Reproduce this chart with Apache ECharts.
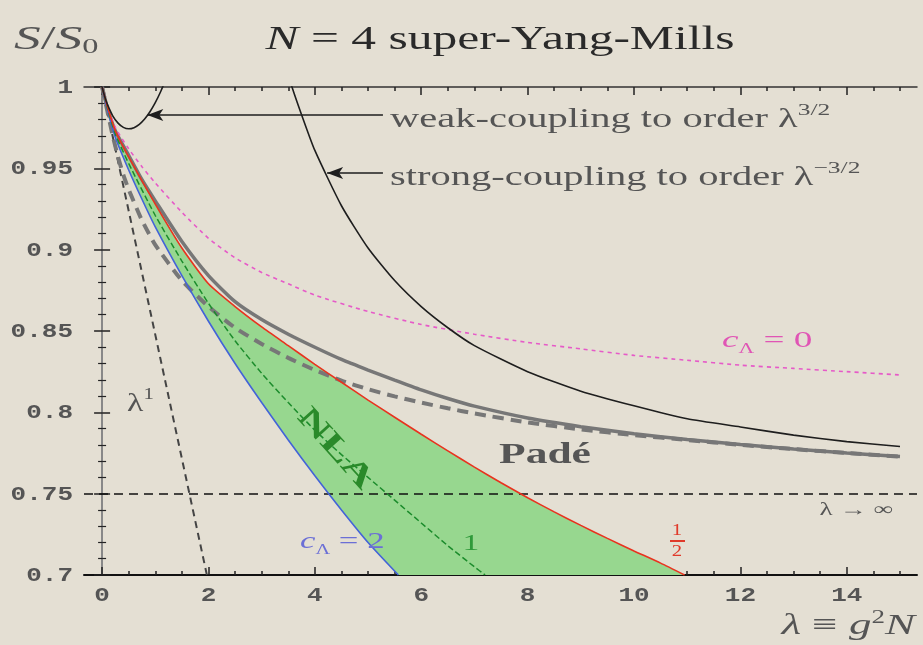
<!DOCTYPE html>
<html>
<head>
<meta charset="utf-8">
<script src="https://cdn.jsdelivr.net/npm/echarts@6/dist/echarts.min.js"></script>
<style>
  html, body { margin: 0; padding: 0; background: #e4dfd3; }
  #chart { width: 923px; height: 645px; }
</style>
</head>
<body>
<div id="chart"></div>
<script>
// ---- axis ticks ----
const xMajorTicks = [0, 2, 4, 6, 8, 10, 12, 14];
const xTickLabels = ['0', '2', '4', '6', '8', '10', '12', '14'];
const xMinorTicks = [0.5, 1, 1.5, 2.5, 3, 3.5, 4.5, 5, 5.5, 6.5, 7, 7.5, 8.5, 9, 9.5,
                     10.5, 11, 11.5, 12.5, 13, 13.5, 14.5, 15];
const yTickValues = [0.7, 0.75, 0.8, 0.85, 0.9, 0.95, 1];
const yTickLabels = ['0.7', '0.75', '0.8', '0.85', '0.9', '0.95', '1'];

// ---- curves: [lambda, S/S0] ----
const weakCoupling = [[0, 1], [0.05, 0.994], [0.1, 0.9893], [0.2, 0.9823], [0.3, 0.9778],
  [0.4, 0.9752], [0.5, 0.9743], [0.6, 0.975], [0.7, 0.977], [0.8, 0.9803], [0.9, 0.9848],
  [1.0, 0.9904], [1.1, 0.9971], [1.2, 1.0048]];

const strongCoupling = [[3.5, 1.008], [3.57, 1.0], [3.75, 0.983], [4, 0.961], [4.5, 0.927],
  [5, 0.901], [5.5, 0.881], [6, 0.865], [6.5, 0.852], [7, 0.841], [8, 0.825], [9, 0.813],
  [10, 0.804], [11, 0.796], [12, 0.791], [13, 0.786], [14, 0.782], [15, 0.779]];

const lambdaOne = [[0, 1], [1.97, 0.7]];

const padeSolid = [[0, 1], [0.1, 0.987], [0.25, 0.973], [0.5, 0.958], [0.75, 0.943],
  [1, 0.930], [1.5, 0.905], [2, 0.884], [2.5, 0.868], [3, 0.857], [3.5, 0.848], [4, 0.840],
  [4.5, 0.8325], [5, 0.826], [5.5, 0.8198], [6, 0.8138], [6.5, 0.8085], [7, 0.8038],
  [8, 0.7965], [9, 0.7912], [10, 0.7868], [11, 0.7833], [12, 0.7802], [13, 0.7775],
  [14, 0.775], [15, 0.7728]];

const padeDashed = [[0, 1], [0.1, 0.985], [0.2, 0.970], [0.3, 0.957], [0.4, 0.946],
  [0.5, 0.937], [0.75, 0.918], [1, 0.903], [1.5, 0.881], [2, 0.865], [2.5, 0.852],
  [3, 0.842], [3.5, 0.8335], [4, 0.826], [4.5, 0.8195], [5, 0.8142], [5.5, 0.8098],
  [6, 0.806], [6.5, 0.8025], [7, 0.7993], [8, 0.7938], [9, 0.7895], [10, 0.786],
  [11, 0.783], [12, 0.780], [13, 0.7774], [14, 0.775], [15, 0.7728]];

const cLambdaZero = [[0, 1], [0.1, 0.988], [0.25, 0.975], [0.5, 0.962], [0.75, 0.951],
  [1, 0.941], [1.5, 0.923], [2, 0.907], [2.5, 0.895], [3, 0.886], [3.5, 0.879], [4, 0.872],
  [5, 0.862], [6, 0.854], [7, 0.848], [8, 0.843], [9, 0.839], [10, 0.835], [11, 0.832],
  [12, 0.829], [13, 0.827], [14, 0.825], [15, 0.823]];

const cLambdaTwo = [[0, 1], [0.1, 0.986], [0.25, 0.969], [0.5, 0.949], [0.75, 0.931],
  [1, 0.914], [1.5, 0.884], [2, 0.856], [2.5, 0.830], [3, 0.806], [3.5, 0.783], [4, 0.761],
  [4.5, 0.740], [5, 0.720], [5.57, 0.700]];

const cLambdaOne = [[0, 1], [0.1, 0.987], [0.25, 0.971], [0.5, 0.953], [1, 0.921],
  [1.5, 0.893], [2, 0.867], [2.5, 0.844], [3, 0.824], [3.5, 0.806], [4, 0.789], [4.5, 0.774],
  [5, 0.760], [5.5, 0.746], [6, 0.732], [6.5, 0.718], [7, 0.705], [7.2, 0.700]];

const cLambdaHalf = [[0, 1], [0.1, 0.988], [0.25, 0.973], [0.5, 0.957], [1, 0.928],
  [1.5, 0.901], [2, 0.879], [2.5, 0.865], [3, 0.8525], [3.5, 0.841], [4, 0.8295],
  [4.5, 0.8185], [5, 0.8075], [5.5, 0.797], [6, 0.7865], [6.5, 0.7763], [7, 0.7663],
  [7.5, 0.7567], [8, 0.7475], [8.5, 0.7388], [9, 0.7305], [9.5, 0.7225], [10, 0.7148],
  [10.5, 0.7073], [10.95, 0.700]];

const infiniteCoupling = 0.75;

// arrow anchors of the two expansion labels: [from, to]
const weakArrow = [[5.28, 0.9828], [0.85, 0.9828]];
const strongArrow = [[5.28, 0.9471], [4.23, 0.9471]];

const SERIF = '"Liberation Serif", "DejaVu Serif", serif';
const MONO = '"Liberation Mono", "DejaVu Sans Mono", monospace';
const INK = '#555';

const chart = echarts.init(document.getElementById('chart'));

function curve(name, data, color, width, type, z) {
  return {
    name, type: 'line', data, showSymbol: false, smooth: 0.2, clip: true, silent: true, z,
    lineStyle: { color, width, type }, emphasis: { disabled: true }
  };
}

function arrowLine(pair) {
  return [
    { coord: pair[0], symbol: 'none' },
    { coord: pair[1], symbol: 'arrow', symbolSize: [9, 16] }
  ];
}

const tickCommon = { inside: true, lineStyle: { color: '#222', width: 1.5 } };
const hiddenLabel = { show: false };

const option = {
  backgroundColor: '#e4dfd3',
  animation: false,
  grid: { left: 84, right: 6, top: 87, bottom: 70 },
  xAxis: [
    { type: 'value', min: -0.34, max: 15.32, position: 'bottom',
      axisLine: { show: true, lineStyle: { color: '#111', width: 2 } },
      axisTick: Object.assign({ customValues: xMajorTicks, length: 8 }, tickCommon),
      axisLabel: hiddenLabel, splitLine: { show: false } },
    { type: 'value', min: -0.34, max: 15.32, position: 'bottom',
      axisLine: { show: false },
      axisTick: Object.assign({ customValues: xMinorTicks, length: 4 }, tickCommon),
      axisLabel: hiddenLabel, splitLine: { show: false } },
    { type: 'value', min: -0.34, max: 15.32, position: 'top',
      axisLine: { show: true, lineStyle: { color: '#333', width: 1.5 } },
      axisTick: Object.assign({ customValues: xMajorTicks, length: 8 }, tickCommon),
      axisLabel: hiddenLabel, splitLine: { show: false } },
    { type: 'value', min: -0.34, max: 15.32, position: 'top',
      axisLine: { show: false },
      axisTick: Object.assign({ customValues: xMinorTicks, length: 4 }, tickCommon),
      axisLabel: hiddenLabel, splitLine: { show: false } }
  ],
  yAxis: [
    { type: 'value', min: 0.7, max: 1, interval: 0.05, position: 'left',
      axisLine: { show: true, lineStyle: { color: '#111', width: 2 } },
      axisTick: Object.assign({ length: 8 }, tickCommon),
      minorTick: { show: true, splitNumber: 5, length: 4, lineStyle: { color: '#222', width: 1.2 } },
      axisLabel: hiddenLabel, splitLine: { show: false }, minorSplitLine: { show: false } },
    { type: 'value', min: 0.7, max: 1, interval: 0.05, position: 'right',
      axisLine: { show: true, lineStyle: { color: '#888', width: 2 } },
      axisTick: Object.assign({ length: 8 }, tickCommon),
      minorTick: { show: true, splitNumber: 5, length: 4, lineStyle: { color: '#222', width: 1.2 } },
      axisLabel: hiddenLabel, splitLine: { show: false }, minorSplitLine: { show: false } }
  ],
  series: [
    // NLA band between c_Λ = 1/2 and c_Λ = 2
    {
      type: 'custom', silent: true, z: 1, data: [[0, 1]],
      renderItem: (params, api) => {
        const upper = cLambdaHalf.map(p => api.coord(p));
        const lower = cLambdaTwo.slice().reverse().map(p => api.coord(p));
        return { type: 'polygon', shape: { points: upper.concat(lower) },
                 style: { fill: '#97d78f' } };
      }
    },
    Object.assign(curve('λ^1', lambdaOne, '#444', 2, [7, 5], 3), {
      smooth: false,
      markLine: {
        silent: true, symbol: 'none', label: { show: false },
        lineStyle: { color: '#111', width: 1.6, type: [9, 6] },
        data: [{ yAxis: infiniteCoupling }]
      }
    }),
    curve('Padé dashed', padeDashed, '#777', 4, [11, 7], 3),
    curve('Padé', padeSolid, '#777', 3.5, 'solid', 3),
    curve('c=0', cLambdaZero, '#e65ac8', 1.6, [4, 4], 4),
    curve('c=2', cLambdaTwo, '#4363d8', 1.6, 'solid', 5),
    curve('c=1', cLambdaOne, '#1c8c2c', 1.5, [6, 3], 5),
    curve('c=1/2', cLambdaHalf, '#e8331f', 1.6, 'solid', 5),
    Object.assign(curve('strong', strongCoupling, '#1e1e1e', 1.6, 'solid', 6), {
      markLine: {
        silent: true, label: { show: false }, lineStyle: { color: '#1e1e1e', width: 1.6, type: 'solid' },
        data: [arrowLine(weakArrow), arrowLine(strongArrow)]
      }
    }),
    curve('weak', weakCoupling, '#1e1e1e', 1.6, 'solid', 6)
  ]
};

chart.setOption(option);

function txt(x, y, text, o) {
  o = o || {};
  const size = o.size || 27;
  const base = { fontFamily: SERIF, fontSize: size, fill: o.color || INK,
                 fontStyle: o.italic ? 'italic' : 'normal', fontWeight: o.bold ? 'bold' : 'normal' };
  const rich = {};
  Object.keys(o.rich || {}).forEach(k => {
    rich[k] = Object.assign({ fontFamily: SERIF, fill: o.color || INK, fontSize: size }, o.rich[k]);
  });
  return {
    type: 'text', x, y, scaleX: o.scaleX || 1.5, rotation: o.rotation || 0, silent: true, z: 20,
    style: Object.assign(base, { text, rich, align: o.align || 'left', verticalAlign: 'middle' })
  };
}

const supStyle = { fontSize: 17, verticalAlign: 'top', lineHeight: 18 };
const mainLine = { lineHeight: 36 };

const annotationGraphics = [
  txt(14, 40, '{i|S}{t|/}{i|S}{s|0}', { size: 33, scaleX: 1.62, rich: {
    i: { fontStyle: 'italic', fontSize: 33, lineHeight: 36 }, t: { fontSize: 33, lineHeight: 36 },
    s: { fontSize: 20, verticalAlign: 'bottom', lineHeight: 22 } } }),
  txt(500, 40, '{i|N}{t| = 4 super-Yang-Mills}', { size: 33, scaleX: 1.5, align: 'center', color: '#2a2a2a',
    rich: { i: { fontStyle: 'italic', fontSize: 33 }, t: { fontSize: 33 } } }),
  txt(390, 120, '{t|weak-coupling to order λ}{s|3/2}', { rich: { t: mainLine, s: supStyle } }),
  txt(390, 178, '{t|strong-coupling to order λ}{s|−3/2}', { rich: { t: mainLine, s: supStyle } }),
  txt(722, 341, '{c|c}{s|Λ}{t| = 0}', { size: 24, scaleX: 1.55, color: '#e055b5', rich: {
    c: { fontStyle: 'italic', lineHeight: 30 }, t: { lineHeight: 30 },
    s: { fontSize: 14, verticalAlign: 'bottom', lineHeight: 18 } } }),
  txt(127, 404, '{t|λ}{s|1}', { size: 26, scaleX: 1.3, rich: { t: { lineHeight: 34 },
    s: { fontSize: 16, verticalAlign: 'top', lineHeight: 18 } } }),
  txt(335, 449, 'NLA', { size: 31, bold: true, color: '#2a8a2a', align: 'center', scaleX: 1.5, rotation: -0.84 }),
  txt(545, 455, 'Padé', { size: 30, bold: true, align: 'center', scaleX: 1.45 }),
  txt(856, 510, 'λ → ∞', { size: 18, align: 'center', scaleX: 1.5 }),
  txt(300, 542, '{c|c}{s|Λ}{t| = 2}', { size: 24, scaleX: 1.45, color: '#6b6fd6', rich: {
    c: { fontStyle: 'italic', lineHeight: 30 }, t: { lineHeight: 30 },
    s: { fontSize: 14, verticalAlign: 'bottom', lineHeight: 18 } } }),
  txt(471, 544, '1', { size: 24, color: '#2f9a3a', align: 'center', scaleX: 1.4 }),
  txt(677, 531, '1', { size: 16, color: '#e03a2a', align: 'center', scaleX: 1.3 }),
  { type: 'line', silent: true, z: 20, shape: { x1: 670, y1: 541, x2: 685, y2: 541 },
    style: { stroke: '#e03a2a', lineWidth: 2 } },
  txt(677, 552, '2', { size: 16, color: '#e03a2a', align: 'center', scaleX: 1.3 }),
  txt(915, 626, '{i|λ} ≡ {i|g}{s|2}{i|N}', { size: 30, scaleX: 1.5, align: 'right', rich: {
    i: { fontStyle: 'italic', lineHeight: 34 }, s: { fontSize: 18, verticalAlign: 'top', lineHeight: 20 } } })
];

// tick labels placed through the axis scales
const tickGraphics = [];
yTickValues.forEach((v, i) => {
  const py = chart.convertToPixel({ yAxisIndex: 0 }, v);
  tickGraphics.push({ type: 'text', x: 73, y: py + 1, scaleX: 1.3, silent: true,
    style: { text: yTickLabels[i], fontFamily: MONO, fontSize: 20, fontWeight: 'bold', fill: INK,
             align: 'right', verticalAlign: 'middle' } });
});
xMajorTicks.forEach((v, i) => {
  const px = chart.convertToPixel({ xAxisIndex: 0 }, v);
  tickGraphics.push({ type: 'text', x: px, y: 596, scaleX: 1.3, silent: true,
    style: { text: xTickLabels[i], fontFamily: MONO, fontSize: 20, fontWeight: 'bold', fill: INK,
             align: 'center', verticalAlign: 'middle' } });
});

chart.setOption({ graphic: annotationGraphics.concat(tickGraphics) });
</script>
</body>
</html>
